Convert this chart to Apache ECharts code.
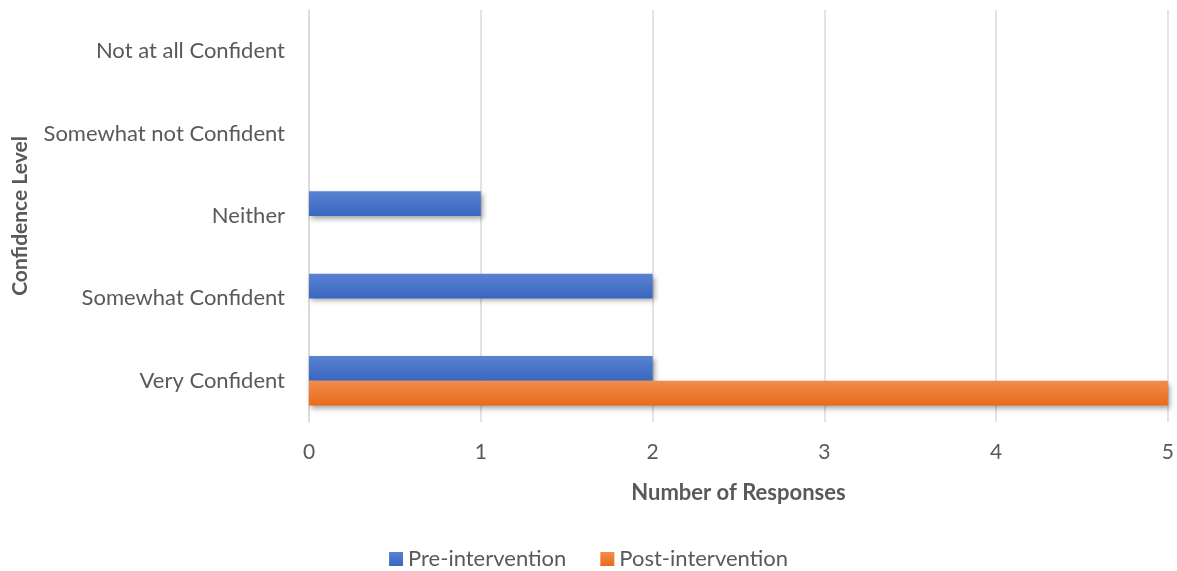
<!DOCTYPE html>
<html>
<head>
<meta charset="utf-8">
<script src="https://cdn.jsdelivr.net/npm/echarts@6/dist/echarts.min.js"></script>
<style>
  html, body { margin: 0; padding: 0; background: #fff; }
  #chart { width: 1177px; height: 571px; }
</style>
</head>
<body>
<div id="chart"></div>
<script>
// Confidence levels, bottom to top
const categories = ['Very Confident', 'Somewhat Confident', 'Neither', 'Somewhat not Confident', 'Not at all Confident'];
const preIntervention = [2, 2, 1, 0, 0];
const postIntervention = [5, 0, 0, 0, 0];
const seriesNames = ['Pre-intervention', 'Post-intervention'];

const FONT = 'Lato, "Open Sans", sans-serif';
const TEXT = '#595959';

function grad(top, bottom) {
  return {
    type: 'linear', x: 0, y: 0, x2: 0, y2: 1,
    colorStops: [{ offset: 0, color: top }, { offset: 1, color: bottom }]
  };
}

const barShadow = {
  shadowColor: 'rgba(0,0,0,0.35)',
  shadowBlur: 5,
  shadowOffsetX: 2,
  shadowOffsetY: 3
};

const chart = echarts.init(document.getElementById('chart'), null, { renderer: 'canvas' });
chart.setOption({
  animation: false,
  textStyle: { fontFamily: FONT },
  grid: { left: 309, right: 8, top: 10, bottom: 149, containLabel: false },
  legend: {
    bottom: -4,
    left: 'center',
    icon: 'rect',
    itemWidth: 14,
    itemHeight: 14,
    itemGap: 34,
    textStyle: { fontSize: 22, color: TEXT, fontFamily: FONT },
    data: seriesNames
  },
  xAxis: {
    type: 'value',
    min: 0,
    max: 5,
    interval: 1,
    name: 'Number of Responses',
    nameLocation: 'middle',
    nameGap: 60,
    nameTextStyle: { fontSize: 22, fontWeight: 'bold', color: TEXT, fontFamily: FONT },
    axisLine: { show: false },
    axisTick: { show: false },
    axisLabel: { fontSize: 21, color: TEXT, margin: 20, fontFamily: FONT },
    splitLine: { lineStyle: { color: '#d9d9d9', width: 1.5 } }
  },
  yAxis: {
    type: 'category',
    data: categories,
    name: 'Confidence Level',
    nameLocation: 'middle',
    nameRotate: 90,
    nameGap: 278,
    nameTextStyle: { fontSize: 21, fontWeight: 'bold', color: TEXT, fontFamily: FONT },
    axisLine: { show: true, lineStyle: { color: '#d9d9d9', width: 1.5 } },
    axisTick: { show: false },
    axisLabel: { fontSize: 22, color: TEXT, margin: 24, fontFamily: FONT },
    splitLine: { show: false }
  },
  series: [
    {
      name: seriesNames[0],
      type: 'bar',
      data: preIntervention,
      barGap: '0%',
      barCategoryGap: '40%',
      itemStyle: Object.assign({ color: grad('#5a82d2', '#3867c0') }, barShadow)
    },
    {
      name: seriesNames[1],
      type: 'bar',
      data: postIntervention,
      barGap: '0%',
      barCategoryGap: '40%',
      itemStyle: Object.assign({ color: grad('#f28c4e', '#e96a18') }, barShadow)
    }
  ]
});
</script>
</body>
</html>
